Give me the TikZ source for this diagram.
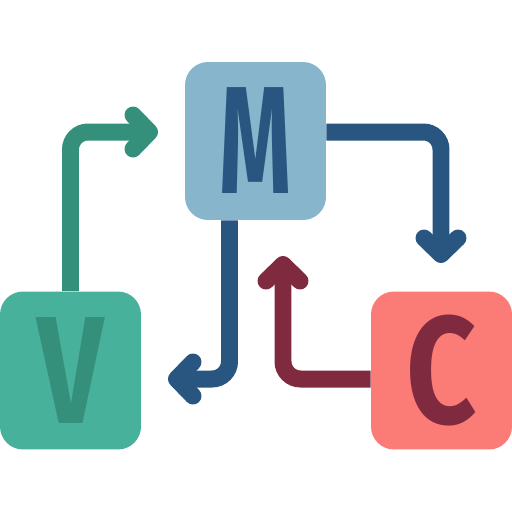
\documentclass[tikz,border=0pt]{standalone}
\usepackage{fontspec}
\newfontfamily\letterfont{Fira Sans}
\usetikzlibrary{calc, positioning}
\usetikzlibrary{arrows.meta}

\definecolor{mfill}{HTML}{87B5CB}
\definecolor{mblue}{HTML}{285680}
\definecolor{vfill}{HTML}{47B19B}
\definecolor{vgreen}{HTML}{348F7B}
\definecolor{cfill}{HTML}{FB7B76}
\definecolor{cred}{HTML}{802A40}

\begin{document}
\begin{tikzpicture}[x=0.02cm, y=-0.02cm,
  box/.style={rounded corners=0.46cm, minimum width=2.82cm, minimum height=3.16cm,
    inner sep=0pt, font=\letterfont\bfseries\fontsize{87}{87}\selectfont},
  flow/.style={line width=0.34cm, rounded corners=0.35cm,
    -{Straight Barb[length=0.33cm, width=0.68cm, round]}}]

\useasboundingbox (0,0) rectangle (512,512);

\node[box, fill=mfill, text=mblue] (Mbox) at (255.5,141) {\scalebox{0.6}[1]{M}};
\node[box, fill=vfill, text=vgreen] (Vbox) at (70.5,370.5) {\scalebox{0.76}[1]{V}};
\node[box, fill=cfill, text=cred] (Cbox) at (441.5,370.5) {\scalebox{0.8}[1]{C}};

\coordinate (vmtip) at (158,132);
\coordinate (mctip) at (441,263);
\coordinate (mvtip) at (168,379);
\coordinate (cmtip) at (283,256);

\draw[flow, vgreen] (Vbox.north) |- (vmtip);
\draw[flow, mblue] ($(Mbox.east)+(0,-9)$) -| (mctip);
\draw[flow, mblue] ($(Mbox.south)+(-26,0)$) |- (mvtip);
\draw[flow, cred] ($(Cbox.west)+(0,8.5)$) -| (cmtip);
\end{tikzpicture}
\end{document}
